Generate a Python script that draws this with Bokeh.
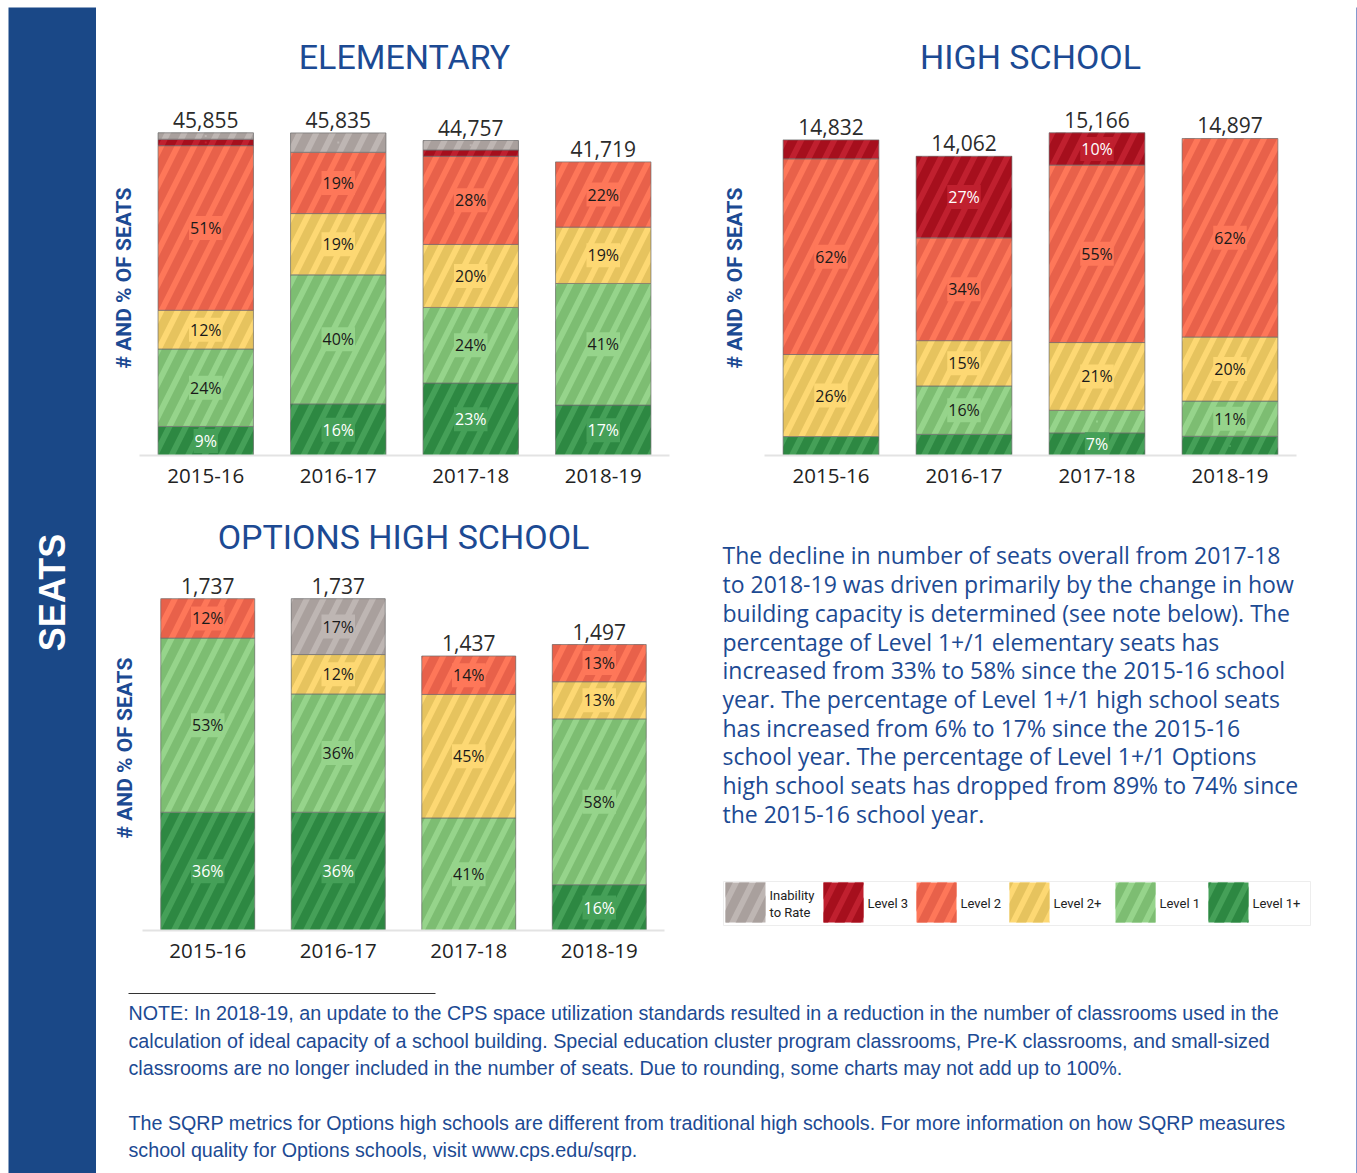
from math import pi
from bokeh.plotting import figure
from bokeh.models import ColumnDataSource, FactorRange, Range1d, Title, LabelSet, Spacer
from bokeh.layouts import row, column
from bokeh.embed import file_html
from bokeh.resources import INLINE
from bokeh.core.properties import value

# ---------------- data ----------------
years = ["2015-16", "2016-17", "2017-18", "2018-19"]
levels = ["Level 1+", "Level 1", "Level 2+", "Level 2", "Level 3", "Inability to Rate"]  # bottom -> top

elem_totals = [45855, 45835, 44757, 41719]
elem_level1plus = [9, 16, 23, 17]
elem_level1 = [24, 40, 24, 41]
elem_level2plus = [12, 19, 20, 19]
elem_level2 = [51, 19, 28, 22]
elem_level3 = [2, 0, 2, 0]
elem_inability = [2, 6, 3, 0]
elem_unlabeled = [("Level 3", y) for y in years] + [("Inability to Rate", y) for y in years]

hs_totals = [14832, 14062, 15166, 14897]
hs_level1plus = [6, 7, 7, 6]
hs_level1 = [0, 16, 7, 11]
hs_level2plus = [26, 15, 21, 20]
hs_level2 = [62, 34, 55, 62]
hs_level3 = [6, 27, 10, 0]
hs_inability = [0, 0, 0, 0]
hs_unlabeled = [("Level 1+", "2015-16"), ("Level 1+", "2016-17"), ("Level 1+", "2018-19"),
                ("Level 1", "2017-18"), ("Level 3", "2015-16")]

opt_totals = [1737, 1737, 1437, 1497]
opt_level1plus = [36, 36, 0, 16]
opt_level1 = [53, 36, 41, 58]
opt_level2plus = [0, 12, 45, 13]
opt_level2 = [12, 0, 14, 13]
opt_level3 = [0, 0, 0, 0]
opt_inability = [0, 17, 0, 0]
opt_unlabeled = []

legend_order = ["Inability to Rate", "Level 3", "Level 2", "Level 2+", "Level 1", "Level 1+"]
legend_text = [["Inability", "to Rate"], ["Level 3"], ["Level 2"], ["Level 2+"], ["Level 1"], ["Level 1+"]]

paragraph = [
    "The decline in number of seats overall from 2017-18",
    "to 2018-19 was driven primarily by the change in how",
    "building capacity is determined (see note below). The",
    "percentage of Level 1+/1 elementary seats has",
    "increased from 33% to 58% since the 2015-16 school",
    "year. The percentage of Level 1+/1 high school seats",
    "has increased from 6% to 17% since the 2015-16",
    "school year. The percentage of Level 1+/1 Options",
    "high school seats has dropped from 89% to 74% since",
    "the 2015-16 school year.",
]
note_lines = [
    "NOTE: In 2018-19, an update to the CPS space utilization standards resulted in a reduction in the number of classrooms used in the",
    "calculation of ideal capacity of a school building. Special education cluster program classrooms, Pre-K classrooms, and small-sized",
    "classrooms are no longer included in the number of seats. Due to rounding, some charts may not add up to 100%.",
    "The SQRP metrics for Options high schools are different from traditional high schools. For more information on how SQRP measures",
    "school quality for Options schools, visit www.cps.edu/sqrp.",
]

# ---------------- style ----------------
FILL = {"Inability to Rate": "#BEB6B3", "Level 3": "#C0202F", "Level 2": "#FE7759",
        "Level 2+": "#FDD873", "Level 1": "#96D48B", "Level 1+": "#45A058"}
HATCH = {"Inability to Rate": "#A9A09D", "Level 3": "#A60F1D", "Level 2": "#E8614A",
         "Level 2+": "#E6C35E", "Level 1": "#7DBD72", "Level 1+": "#2D8842"}
TXT = {"Inability to Rate": "#1a1a1a", "Level 3": "#ffffff", "Level 2": "#1a1a1a",
       "Level 2+": "#1a1a1a", "Level 1": "#1a1a1a", "Level 1+": "#ffffff"}
BLUE = "#1C4A93"
SIDEBAR = "#1A4887"
FRAME_BLUE = "#0B35A0"
HATCH_SCALE = 33
HATCH_WEIGHT = 9


def make_chart(title, totals, series, unlabeled, frame_w, frame_h,
               b_left, b_right, b_top, b_bottom, title_standoff, ylab_standoff):
    d = {k: [] for k in ["x", "bottom", "top", "mid", "fill", "hatch", "label", "tcolor"]}
    for i, yr in enumerate(years):
        pcts = [series[lv][i] for lv in levels]
        s = float(sum(pcts))
        cum = 0.0
        for lv, v in zip(levels, pcts):
            if v <= 0:
                continue
            seg = totals[i] * v / s
            d["x"].append(yr)
            d["bottom"].append(cum)
            d["top"].append(cum + seg)
            d["mid"].append(cum + seg / 2)
            d["fill"].append(FILL[lv])
            d["hatch"].append(HATCH[lv])
            d["label"].append("" if (lv, yr) in unlabeled else f"{v}%")
            d["tcolor"].append(TXT[lv])
            cum += seg
    src = ColumnDataSource(d)

    p = figure(x_range=FactorRange(*years), y_range=Range1d(0, max(totals) * 1.1),
               frame_width=frame_w, frame_height=frame_h,
               min_border_left=b_left, min_border_right=b_right,
               min_border_top=b_top, min_border_bottom=b_bottom,
               y_axis_location=None, toolbar_location=None, output_backend="svg")
    p.outline_line_color = None
    p.grid.grid_line_color = None
    p.vbar(x="x", bottom="bottom", top="top", width=0.72, source=src,
           fill_color="fill", line_color="#6e6e6e", line_width=1, line_alpha=0.7,
           hatch_pattern="right_diagonal_line", hatch_color="hatch",
           hatch_scale=HATCH_SCALE, hatch_weight=HATCH_WEIGHT)
    p.text(x="x", y="mid", text="label", source=src, text_color="tcolor",
           text_align="center", text_baseline="middle", text_font=value("Open Sans"),
           text_font_size="16px", background_fill_color="fill", padding=1)
    tsrc = ColumnDataSource(dict(x=years, y=totals, t=[f"{t:,}" for t in totals]))
    p.text(x="x", y="y", text="t", source=tsrc, text_align="center", text_baseline="bottom",
           y_offset=-5, text_font=value("Open Sans"), text_font_size="21px", text_color="#2b2b2b")

    p.xaxis.axis_line_color = "#E3E3E3"
    p.xaxis.axis_line_width = 2
    p.xaxis.major_tick_line_color = None
    p.xaxis.minor_tick_line_color = None
    p.xaxis.major_label_text_font = "Open Sans"
    p.xaxis.major_label_text_font_size = "20.5px"
    p.xaxis.major_label_text_color = "#222222"
    p.xaxis.major_label_standoff = 7

    p.title.text = title
    p.title.align = "center"
    p.title.text_font = "Roboto"
    p.title.text_font_size = "34px"
    p.title.text_font_style = "normal"
    p.title.text_color = BLUE
    p.title.standoff = title_standoff

    yl = Title(text="# AND % OF SEATS", align="center", text_font="Roboto",
               text_font_size="21px", text_font_style="bold", text_color=BLUE,
               standoff=ylab_standoff)
    p.add_layout(yl, "left")
    return p


def series_of(l1p, l1, l2p, l2, l3, inab):
    return {"Level 1+": l1p, "Level 1": l1, "Level 2+": l2p, "Level 2": l2,
            "Level 3": l3, "Inability to Rate": inab}


elem = make_chart("ELEMENTARY", elem_totals,
                  series_of(elem_level1plus, elem_level1, elem_level2plus, elem_level2, elem_level3, elem_inability),
                  elem_unlabeled, 530, 355, 43, 31, 90, 35, 48, 7)
hs = make_chart("HIGH SCHOOL", hs_totals,
                series_of(hs_level1plus, hs_level1, hs_level2plus, hs_level2, hs_level3, hs_inability),
                hs_unlabeled, 532, 355, 64, 60, 90, 35, 48, 36)
opt = make_chart("OPTIONS HIGH SCHOOL", opt_totals,
                 series_of(opt_level1plus, opt_level1, opt_level2plus, opt_level2, opt_level3, opt_inability),
                 opt_unlabeled, 522, 365, 46, 36, 75, 35, 18, 11)


def blank(w, h, xr, yr, bg="white", **kw):
    if kw:
        f = figure(x_range=xr, y_range=yr, x_axis_type=None, y_axis_type=None,
                   toolbar_location=None, output_backend="svg", **kw)
    else:
        f = figure(width=w, height=h, x_range=xr, y_range=yr, x_axis_type=None, y_axis_type=None,
                   min_border=0, toolbar_location=None, output_backend="svg")
    f.outline_line_color = None
    f.grid.grid_line_color = None
    f.background_fill_color = bg
    f.border_fill_color = bg
    return f


# sidebar (page coordinates)
side = blank(88, 1166, Range1d(8, 96), Range1d(1173, 7), SIDEBAR)
side.text(x=[52], y=[592], text=["SEATS"], angle=pi / 2, text_align="center", text_baseline="middle",
          text_font=value("Liberation Sans"), text_font_style="bold", text_font_size="36px",
          text_color="white")

topline = blank(1260, 3, Range1d(0, 1), Range1d(0, 1), FRAME_BLUE)
rightline = blank(1, 1166, Range1d(0, 1), Range1d(0, 1), FRAME_BLUE)

# right text panel with legend; frame matches the options chart frame (page y 565..930)
panel = blank(None, None, Range1d(700, 1356), Range1d(930, 565),
              frame_width=656, frame_height=365, min_border_left=0, min_border_right=0,
              min_border_top=75, min_border_bottom=35)
# first paragraph line sits just above the frame -> drawn as a title in the top border
panel.add_layout(Title(text=paragraph[0], align="left", offset=22, standoff=-10,
                       text_font="Open Sans", text_font_size="23px", text_font_style="normal",
                       text_color=BLUE), "above")
psrc = ColumnDataSource(dict(x=[722] * (len(paragraph) - 1),
                             y=[555 + 28.7 * i for i in range(1, len(paragraph))], text=paragraph[1:]))
panel.add_layout(LabelSet(x="x", y="y", text="text", source=psrc, text_align="left",
                          text_baseline="middle", text_font=value("Open Sans"),
                          text_font_size="23px", text_color=BLUE))
leg_left = [725, 823, 916, 1009, 1115, 1208]
panel.rect(x=[(723 + 1310) / 2], y=[903], width=[587], height=[44], fill_color=None,
           line_color="#EDEDED", line_width=1)
panel.rect(x=[l + 20 for l in leg_left], y=[902] * 6, width=[40] * 6, height=[40] * 6,
           fill_color=[FILL[k] for k in legend_order], line_color=None,
           hatch_pattern="right_diagonal_line", hatch_color=[HATCH[k] for k in legend_order],
           hatch_scale=HATCH_SCALE, hatch_weight=HATCH_WEIGHT)
lx, ly, lt = [], [], []
for l, lines in zip(leg_left, legend_text):
    n = len(lines)
    for j, s in enumerate(lines):
        lx.append(l + 44)
        ly.append(903 + (j - (n - 1) / 2) * 17)
        lt.append(s)
panel.text(x=lx, y=ly, text=lt, text_align="left", text_baseline="middle",
           text_font=value("Roboto"), text_font_size="13px", text_color="#222222")

# note
note = blank(1260, 208, Range1d(96, 1356), Range1d(1173, 965))
note.segment(x0=[128], y0=[993], x1=[435], y1=[993], line_color="#333333", line_width=1)
note.text(x=[128] * 5, y=[1012, 1040, 1067, 1122, 1149], text=note_lines, text_align="left",
          text_baseline="middle", text_font=value("Liberation Sans"), text_font_size="19.7px",
          text_color=BLUE)

main = column(topline, row(elem, hs), row(opt, panel), note)
layout = row(Spacer(width=8, height=1173),
             column(Spacer(width=1349, height=7), row(side, main, rightline)))

open("out.html", "w").write(file_html(layout, INLINE))
